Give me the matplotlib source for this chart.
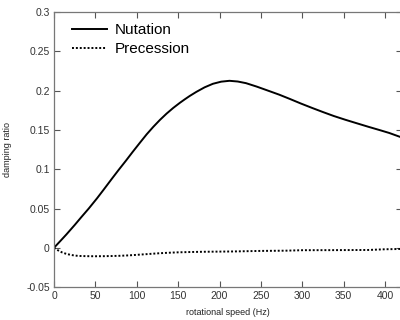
import numpy as np
import matplotlib
matplotlib.use("Agg")
import matplotlib.pyplot as plt

# values
nut_hz = [0, 8, 15, 25, 33, 42, 52, 60, 70, 78, 87, 95, 104, 112, 120, 128,
          136, 144, 152, 158, 164, 172, 182, 192, 202, 212, 222, 232, 245,
          258, 272, 285, 298, 312, 325, 338, 352, 365, 380, 393, 405, 420]
nut_zeta = [0, 0.009, 0.017, 0.029, 0.039, 0.05, 0.063, 0.074, 0.088, 0.099,
            0.111, 0.122, 0.134, 0.1445, 0.154, 0.1628, 0.1708, 0.178,
            0.1845, 0.189, 0.1933, 0.1985, 0.2043, 0.2088, 0.2115, 0.2126,
            0.2117, 0.2096, 0.2052, 0.2003, 0.195, 0.1895, 0.1838, 0.178,
            0.1728, 0.1678, 0.163, 0.1588, 0.154, 0.150, 0.1462, 0.1405]
pre_hz = [0, 3, 6, 10, 15, 20, 25, 30, 40, 50, 60, 70, 80, 90, 100, 112, 124,
          137, 150, 165, 180, 216, 250, 280, 300, 340, 380, 400, 420]
pre_zeta = [0, -0.002, -0.004, -0.006, -0.0078, -0.009, -0.0099, -0.0104,
            -0.0107, -0.0108, -0.0107, -0.0105, -0.0102, -0.0097, -0.009,
            -0.0081, -0.0072, -0.0064, -0.0058, -0.0054, -0.0051, -0.0047,
            -0.004, -0.0037, -0.0031, -0.003, -0.0028, -0.0019, -0.0015]

xticks = [0, 50, 100, 150, 200, 250, 300, 350, 400]
yticks = [-0.05, 0, 0.05, 0.1, 0.15, 0.2, 0.25, 0.3]
ytick_labels = ["-0.05", "0", "0.05", "0.1", "0.15", "0.2", "0.25", "0.3"]

plt.rcParams["font.family"] = ["Liberation Sans", "DejaVu Sans"]

fig = plt.figure(figsize=(4.0, 3.2), dpi=100)
ax = fig.add_axes([0.135, 0.103, 0.869, 0.859])

ax.plot(nut_hz, nut_zeta, color="black", lw=1.4, label="Nutation")
ax.plot(pre_hz, pre_zeta, color="black", lw=1.4, ls=(0, (1, 1)),
        label="Precession")

ax.set_xlim(0, 420)
ax.set_ylim(-0.05, 0.3)
ax.set_xticks(xticks)
ax.set_yticks(yticks)
ax.set_yticklabels(ytick_labels)
ax.tick_params(direction="in", length=4, width=0.8, color="#555",
               labelsize=7.5, labelcolor="#333", top=True, right=True, pad=3)
for s in ax.spines.values():
    s.set_color("#777")
    s.set_linewidth(0.9)

ax.set_xlabel("rotational speed (Hz)", fontsize=6.5, color="#222", labelpad=5)
ax.set_ylabel("damping ratio", fontsize=6.5, color="#222", labelpad=10)

ax.legend(loc="upper left", frameon=False, fontsize=11, handlelength=2.3,
          handletextpad=0.55, labelspacing=0.35, borderaxespad=0.3,
          bbox_to_anchor=(0.02, 1.0))

fig.savefig("out.png", dpi=100)
